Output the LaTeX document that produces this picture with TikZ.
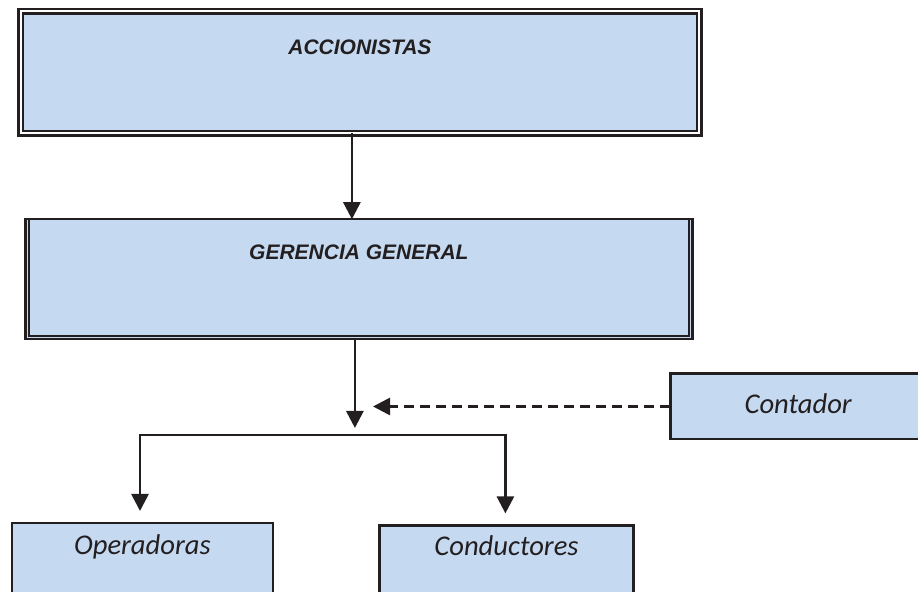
\documentclass[tikz,border=0pt]{standalone}
\usepackage{fontspec}
\usetikzlibrary{arrows.meta}
\newfontfamily\arialf{Liberation Sans}
\newfontfamily\calibrif{Carlito}
\definecolor{cajaazul}{RGB}{197,217,241}
\definecolor{tinta}{RGB}{35,31,32}

\begin{document}
\begin{tikzpicture}[x=0.5pt, y=-0.5pt, >={Triangle[length=8.5pt,width=8.5pt]},
  jefe/.style={draw=tinta, fill=cajaazul, anchor=north west, inner sep=0pt, outer sep=0pt,
    text=tinta, font=\arialf\bfseries\itshape\fontsize{10.5}{12}\selectfont},
  caja/.style={draw=tinta, fill=cajaazul, line width=1.2pt, anchor=north west, inner sep=0pt, outer sep=0pt,
    text=tinta, font=\calibrif\itshape\fontsize{14.3}{16}\selectfont},
  linea/.style={draw=tinta, line width=1.35pt},
  flecha/.style={linea, ->},
  flechas/.style={linea, <->}]
 \useasboundingbox (0,0) rectangle (918,592);
 \clip (0,0) rectangle (918,592);

	% Cajas
 \node[jefe, double, double distance=0.9pt, line width=1.3pt, minimum width=339.2pt,
   text height=21.8pt, text depth=39.2pt] (acc) at (20.7,11.3) {ACCIONISTAS};
 \node[jefe, line width=1.2pt, minimum width=333.6pt,
   text height=20.4pt, text depth=39.6pt] (ger) at (25.3,219.2) {GERENCIA GENERAL};
 \draw[tinta, line width=1.1pt] ([xshift=2pt]ger.north west)
   |- ([shift={(-1.65pt,1.75pt)}]ger.south east) -- ([xshift=-1.65pt]ger.north east);
 \node[caja, minimum width=127.9pt, text height=19.7pt, text depth=13.1pt] (cont) at (670.3,373.7) {Contador};
 \node[caja, minimum width=130.6pt, text height=16pt, text depth=32.5pt] (ope) at (11.8,523) {Operadoras};
 \node[caja, minimum width=126.9pt, text height=15.3pt, text depth=32pt] (con) at (379.6,525.4) {Conductores};

	% Enlaces
 \coordinate (cruce) at (354.9,428);
 \coordinate (llega) at (373,407);
 \coordinate (ramaiz) at (140,435);
 \coordinate (ramade) at (505.4,435);

 \draw[flecha] ([xshift=-4pt]acc.south) -- ([xshift=-4pt]acc.south |- ger.north);
 \draw[flecha] ([xshift=-2pt]ger.south) -- (cruce);
 \draw[flecha, dash pattern=on 5pt off 3pt] (cont.west) -- (cont.west -| llega);
 \draw[flechas] ([yshift=6pt]ramaiz |- ope.north) |- (ramade) -- ([yshift=6pt]ramade |- con.north);

\end{tikzpicture}
\end{document}
